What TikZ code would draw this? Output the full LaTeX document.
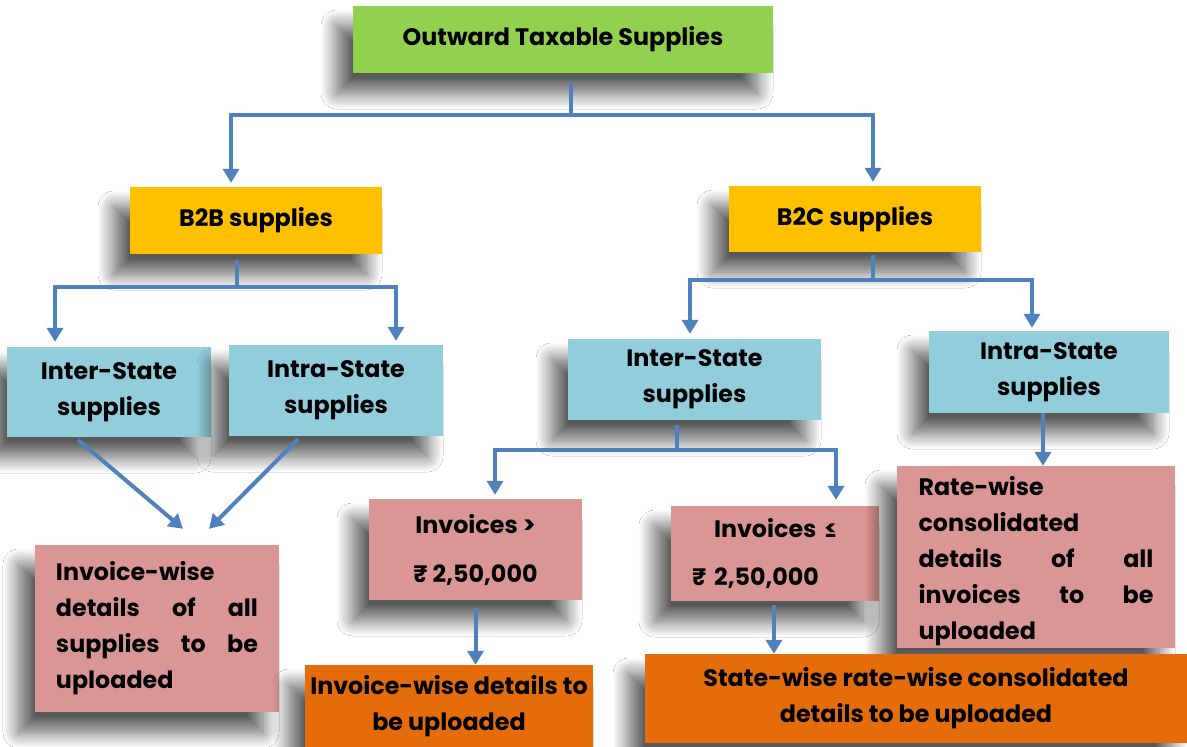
\documentclass[tikz,border=0pt]{standalone}
\usepackage{fontspec}
\setmainfont{Poppins}[UprightFont={* Bold}]
\usetikzlibrary{arrows.meta,shadows.blur}
\definecolor{cgreen}{HTML}{92D050}
\definecolor{cgold}{HTML}{FFC000}
\definecolor{cblue}{HTML}{92CDDC}
\definecolor{cpink}{HTML}{DA9694}
\definecolor{corange}{HTML}{E46C0A}
\definecolor{carrow}{HTML}{4F81BD}
\tikzset{
  box/.style={draw=none, inner sep=0pt, font=\fontsize{23.8}{36}\selectfont, text=black,
    blur shadow={shadow xshift=-16pt, shadow yshift=-20pt, shadow blur radius=16pt, shadow blur steps=16, shadow opacity=65}},
  conn/.style={draw=carrow, line width=4pt},
  arr/.style={conn, -{Triangle[width=16pt,length=14pt]}},
}
\begin{document}
\begin{tikzpicture}[x=1pt,y=-1pt]
\useasboundingbox (0,0) rectangle (1187,747);
\fill[white] (0,0) rectangle (1187,747);
% boxes
\node[box, fill=cgreen, minimum width=420pt, minimum height=67pt] (top) at (563,39.5) {Outward Taxable Supplies};
\node[box, fill=cgold, minimum width=252pt, minimum height=67pt] (b2b) at (256,220.5) {B2B supplies};
\node[box, fill=cgold, minimum width=252pt, minimum height=66pt] (b2c) at (855,219) {B2C supplies};
\node[box, fill=cblue, minimum width=204pt, minimum height=90pt, align=center] (lint) at (109,392) {Inter-State\\supplies};
\node[box, fill=cblue, minimum width=214pt, minimum height=91pt, align=center] (lintra) at (336,390.5) {Intra-State\\supplies};
\node[box, fill=cblue, minimum width=253pt, minimum height=81pt, align=center] (mint) at (694.5,379.5) {Inter-State\\supplies};
\node[box, fill=cblue, minimum width=240pt, minimum height=82pt, align=center] (rintra) at (1049,372) {Intra-State\\supplies};
\node[box, fill=cpink, minimum width=244pt, minimum height=167pt, text width=202pt, align=left] (linv) at (157,628.5)
  {Invoice-wise\\details\hfill of\hfill all\\supplies\hfill to\hfill be\\uploaded\\[6pt]};
\node[box, fill=cpink, minimum width=213pt, minimum height=101pt, align=center] (invgt) at (475.5,549.5) {Invoices >\\[13pt]₹ 2,50,000};
\node[box, fill=cpink, minimum width=208pt, minimum height=95pt, text width=166pt, align=left] (invle) at (775,553.5) {\hspace*{22pt}Invoices ≤\\[12pt]₹ 2,50,000};
\node[box, fill=cpink, minimum width=278pt, minimum height=182pt, text width=235pt, align=left] (rate) at (1036,557)
  {\rule{0pt}{28pt}Rate-wise\\consolidated\\details\hfill of\hfill all\\invoices\hfill to\hfill be\\uploaded};
\node[box, fill=corange, minimum width=288pt, minimum height=82pt, align=center] (oinv) at (449,706) {Invoice-wise details to\\be uploaded};
\node[box, fill=corange, minimum width=542pt, minimum height=89pt, align=center] (ostate) at (916,698.5) {State-wise rate-wise consolidated\\details to be uploaded};
% connectors
\coordinate (j1) at (571,115);
\draw[conn, shorten <=10pt] (top.south -| j1) -- (j1);
\draw[arr] (j1) -| ([xshift=-25pt,yshift=4pt]b2b.north);
\draw[arr] (j1) -| ([xshift=18pt,yshift=4pt]b2c.north);
\coordinate (j2) at (237,287);
\draw[conn, shorten <=6pt] (b2b.south -| j2) -- (j2);
\draw[arr] (j2) -| ([xshift=-54pt,yshift=5pt]lint.north);
\draw[arr] (j2) -| ([xshift=60pt,yshift=4pt]lintra.north);
\coordinate (j3) at (873,280);
\draw[conn, shorten <=3pt] (b2c.south -| j3) -- (j3);
\draw[arr] (j3) -| ([xshift=-4.5pt,yshift=5pt]mint.north);
\draw[arr] (j3) -| ([xshift=-17pt,yshift=3pt]rintra.north);
\coordinate (j4) at (677,450);
\draw[conn, shorten <=5pt] (mint.south -| j4) -- (j4);
\draw[arr] (j4) -| ([xshift=19.5pt,yshift=4pt]invgt.north);
\draw[arr] (j4) -| ([xshift=61pt,yshift=6pt]invle.north);
\draw[arr, shorten <=4pt] ([xshift=-34pt]lint.south) -- ([xshift=26pt,yshift=16pt]linv.north);
\draw[arr, shorten <=4pt] ([xshift=-35pt]lintra.south) -- ([xshift=52pt,yshift=16pt]linv.north);
\draw[arr, shorten <=8pt] (invgt.south) -- (invgt.south |- oinv.north);
\draw[arr, shorten <=4pt] ([xshift=-1pt]invle.south) -- ([xshift=-1pt]invle.south |- ostate.north);
\draw[arr] ([xshift=-6pt]rintra.south) -- ([xshift=-6pt]rintra.south |- rate.north);
\end{tikzpicture}
\end{document}
